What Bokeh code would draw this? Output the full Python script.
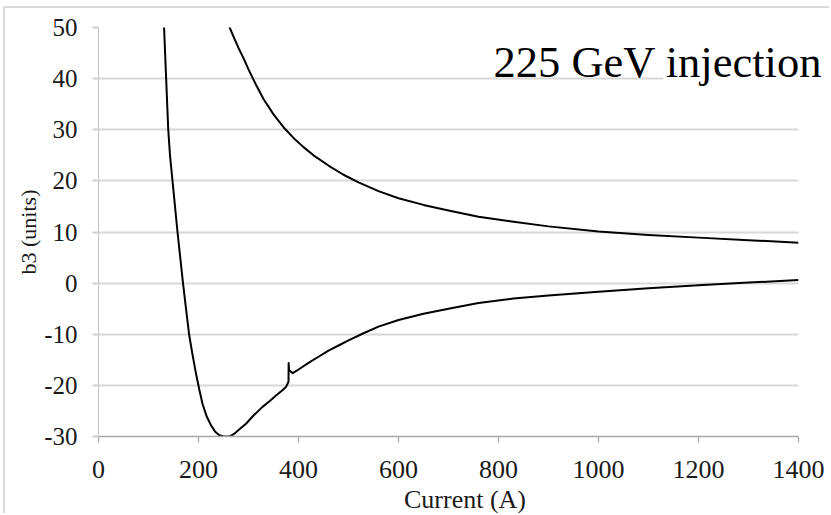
from bokeh.plotting import figure
from bokeh.models import Label, BoxAnnotation, FixedTicker, Range1d, Title
from bokeh.embed import file_html
from bokeh.resources import INLINE

# ---- data ----
x_ticks = [0, 200, 400, 600, 800, 1000, 1200, 1400]
y_ticks = [-30, -20, -10, 0, 10, 20, 30, 40, 50]
y_tick_labels = ["-30", "-20", "-10", "0", "10", "20", "30", "40", "50"]

upper_current = [261, 270, 280, 290, 300, 315, 330, 350, 370, 390, 410, 430, 460,
                 490, 520, 560, 600, 650, 700, 760, 830, 900, 1000, 1100, 1200,
                 1300, 1400]
upper_b3 = [50.3, 48.2, 46.0, 44.0, 41.8, 38.8, 36.0, 33.0, 30.5, 28.4, 26.6, 25.0,
            23.0, 21.2, 19.7, 18.0, 16.6, 15.3, 14.2, 13.0, 12.0, 11.1, 10.1, 9.4,
            8.9, 8.4, 7.9]

lower_current = [131, 135.3, 139.5, 143, 148, 153, 158, 163.5, 169, 175, 181, 188,
                 195, 202, 208, 216, 225, 233, 241, 250, 262, 271, 283, 295, 310,
                 328, 342, 355, 366, 375, 380, 380.3, 381, 388, 395, 400, 420, 440,
                 460, 480, 500, 530, 560, 600, 650, 700, 760, 830, 900, 1000, 1100,
                 1200, 1300, 1400]
lower_b3 = [50.3, 40.0, 30.0, 25.0, 20.0, 15.0, 10.0, 5.0, 0.0, -5.0, -9.9, -14.0,
            -17.7, -21.0, -23.6, -26.0, -27.8, -29.0, -29.7, -30.0, -30.0, -29.5,
            -28.5, -27.5, -25.9, -24.2, -23.1, -22.0, -21.1, -20.3, -19.3, -15.6,
            -17.0, -17.6, -17.2, -16.9, -15.6, -14.4, -13.2, -12.2, -11.2, -9.8,
            -8.5, -7.2, -6.0, -5.0, -3.9, -3.0, -2.4, -1.7, -1.0, -0.4, 0.1, 0.6]

title_text = "225 GeV injection"
x_label = "Current (A)"
y_label = "b3 (units)"

FONT = "Liberation Serif"
X_VIEW_END = 1466  # frame runs past the last tick so the title fits, as in the reference

p = figure(width=826, height=507, output_backend="svg", toolbar_location=None,
           x_range=Range1d(0, X_VIEW_END), y_range=Range1d(-30, 50),
           min_border_left=93, min_border_right=0,
           min_border_top=19, min_border_bottom=79)
p.styles = {"margin-left": "3px", "margin-top": "6px",
            "border-left": "2px solid #d9d9d9", "border-top": "2px solid #d9d9d9"}

p.outline_line_color = None
p.background_fill_color = "white"
p.border_fill_color = "white"

p.xgrid.grid_line_color = None
p.ygrid.grid_line_color = "#d8d8d8"
p.ygrid.grid_line_width = 2

p.xaxis.ticker = FixedTicker(ticks=x_ticks)
p.xaxis.bounds = (x_ticks[0], x_ticks[-1])
p.yaxis.ticker = FixedTicker(ticks=y_ticks)
p.yaxis.major_label_overrides = dict(zip(y_ticks, y_tick_labels))

for ax in (p.xaxis, p.yaxis):
    ax.minor_tick_line_color = None
    ax.major_tick_in = 0
    ax.major_tick_out = 6
    ax.major_label_text_font = FONT
    ax.major_label_text_color = "#1a1a1a"

p.xaxis.axis_line_color = "#a8a8a8"
p.xaxis.axis_line_width = 1.3
p.xaxis.major_tick_line_color = "#a8a8a8"
p.xaxis.major_tick_line_width = 1.3
p.xaxis.major_label_text_font_size = "26px"
p.xaxis.major_label_standoff = 18

p.yaxis.axis_line_color = "#c4c4c4"
p.yaxis.axis_line_width = 1
p.yaxis.major_tick_line_color = "#d0d0d0"
p.yaxis.major_tick_line_width = 2
p.yaxis.major_label_text_font_size = "25px"
p.yaxis.major_label_standoff = 15

p.line(upper_current, upper_b3, line_color="black", line_width=2, line_join="round")
p.line(lower_current, lower_b3, line_color="black", line_width=2, line_join="round")

# blank the area right of the last tick (gridlines stop at 1400 in the reference)
p.add_layout(BoxAnnotation(left=x_ticks[-1], fill_color="white", fill_alpha=1,
                           line_color=None))
# white patch behind the title (hides part of the 40 gridline as in the reference)
p.add_layout(BoxAnnotation(left=1130, right=x_ticks[-1], bottom=38.5, top=41.5,
                           fill_color="white", fill_alpha=1, line_color=None))

p.add_layout(Label(x=790, y=43.3, text=title_text, text_font=FONT,
                   text_font_size="44.5px", text_color="black",
                   text_baseline="alphabetic", text_align="left"))

p.add_layout(Title(text=x_label, align="center", offset=-31, standoff=4,
                   text_font=FONT, text_font_size="26px", text_font_style="normal",
                   text_color="#1a1a1a"), "below")
p.add_layout(Title(text=y_label, align="center", offset=38, standoff=1,
                   text_font=FONT, text_font_size="22px", text_font_style="normal",
                   text_color="#1a1a1a"), "left")

open("out.html", "w").write(file_html(p, INLINE))
